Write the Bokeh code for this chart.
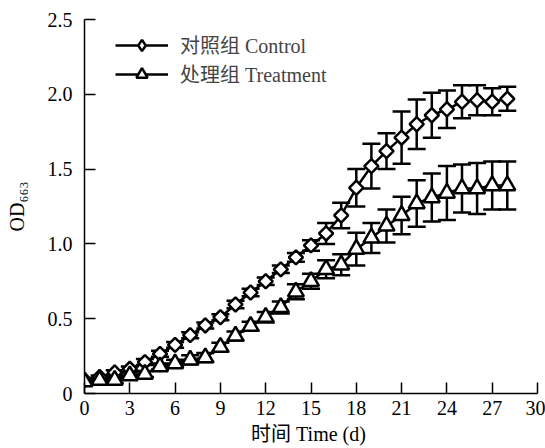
from bokeh.plotting import figure
from bokeh.models import ColumnDataSource, Whisker, TeeHead, Legend, LegendItem, FixedTicker, Range1d
from bokeh.embed import file_html
from bokeh.resources import INLINE
import math

days = list(range(0, 29))
control_mean = [0.09, 0.11, 0.14, 0.165, 0.21, 0.265, 0.325, 0.39, 0.455, 0.51,
                0.595, 0.675, 0.75, 0.83, 0.91, 0.99, 1.07, 1.19, 1.375, 1.52,
                1.62, 1.71, 1.80, 1.86, 1.90, 1.95, 1.96, 1.95, 1.97]
control_sd = [0.01, 0.01, 0.015, 0.015, 0.02, 0.02, 0.02, 0.02, 0.02, 0.02,
              0.025, 0.025, 0.025, 0.025, 0.03, 0.035, 0.07, 0.085, 0.125, 0.15,
              0.12, 0.175, 0.165, 0.15, 0.125, 0.11, 0.10, 0.09, 0.08]
treat_mean = [0.08, 0.09, 0.09, 0.12, 0.13, 0.18, 0.20, 0.225, 0.24, 0.31,
              0.385, 0.45, 0.51, 0.575, 0.68, 0.75, 0.83, 0.86, 0.965, 1.04,
              1.12, 1.19, 1.27, 1.31, 1.34, 1.37, 1.37, 1.39, 1.39]
treat_sd = [0.01, 0.015, 0.02, 0.02, 0.02, 0.02, 0.025, 0.03, 0.03, 0.03,
            0.03, 0.03, 0.035, 0.04, 0.05, 0.05, 0.06, 0.07, 0.11, 0.10,
            0.11, 0.125, 0.155, 0.16, 0.18, 0.16, 0.17, 0.16, 0.16]

x_ticks = [0, 3, 6, 9, 12, 15, 18, 21, 24, 27, 30]
y_ticks = [0, 0.5, 1.0, 1.5, 2.0, 2.5]
y_tick_labels = ["0", "0.5", "1.0", "1.5", "2.0", "2.5"]
series_names = ["对照组 Control", "处理组 Treatment"]
x_label = "时间  Time (d)"
y_label = "OD₆₆₃"

FONT = "Liberation Serif, Noto Sans CJK SC"
FS = "20px"

p = figure(width=545, height=448, output_backend="svg", toolbar_location=None,
           x_range=Range1d(0, 30), y_range=Range1d(0, 2.5),
           min_border_left=84, min_border_right=8, min_border_top=19, min_border_bottom=55)
p.outline_line_color = None
p.grid.visible = False
p.background_fill_color = "white"

for ax in (p.xaxis[0], p.yaxis[0]):
    ax.axis_line_color = "black"
    ax.axis_line_width = 1.5
    ax.major_tick_line_color = "black"
    ax.major_tick_line_width = 1.5
    ax.major_tick_in = 11
    ax.major_tick_out = 0
    ax.minor_tick_line_color = None
    ax.major_label_text_font = FONT
    ax.major_label_text_font_size = FS
    ax.major_label_text_color = "black"
    ax.axis_label_text_font = FONT
    ax.axis_label_text_font_size = FS
    ax.axis_label_text_font_style = "normal"
    ax.axis_label_text_color = "black"

p.xaxis.ticker = FixedTicker(ticks=x_ticks)
p.yaxis.ticker = FixedTicker(ticks=y_ticks)
p.yaxis.major_label_overrides = {t: l for t, l in zip(y_ticks, y_tick_labels)}
p.xaxis.major_label_standoff = 7
p.yaxis.major_label_standoff = 12
p.xaxis.axis_label = x_label
p.yaxis.axis_label = y_label
p.xaxis.axis_label_standoff = 5
p.yaxis.axis_label_standoff = 17

src_c = ColumnDataSource(dict(x=days, y=control_mean,
                              lo=[m - s for m, s in zip(control_mean, control_sd)],
                              hi=[m + s for m, s in zip(control_mean, control_sd)]))
src_t = ColumnDataSource(dict(x=days, y=treat_mean,
                              lo=[m - s for m, s in zip(treat_mean, treat_sd)],
                              hi=[m + s for m, s in zip(treat_mean, treat_sd)]))

for src in (src_c, src_t):
    w = Whisker(source=src, base="x", lower="lo", upper="hi",
                line_color="black", line_width=2.5,
                upper_head=TeeHead(size=18, line_color="black", line_width=2.5),
                lower_head=TeeHead(size=18, line_color="black", line_width=2.5))
    p.add_layout(w)

lc = p.line("x", "y", source=src_c, line_color="black", line_width=2.5)
# legend-only diamond: legend glyphs ignore marker angle, so a zero-size diamond
# renderer supplies the legend symbol (legend marker size is set by the legend box)
legend_diamond = p.scatter("x", "y", source=src_c, marker="diamond", size=0,
                           fill_color="white", line_color="black", line_width=2.5)
mc = p.scatter("x", "y", source=src_c, marker="square", angle=math.pi / 4, size=10,
               fill_color="white", line_color="black", line_width=2.5)
lt = p.line("x", "y", source=src_t, line_color="black", line_width=2.5)
mt = p.scatter("x", "y", source=src_t, marker="triangle", size=16,
               fill_color="white", line_color="black", line_width=2.5)

legend = Legend(items=[LegendItem(label=series_names[0], renderers=[lc, legend_diamond]),
                       LegendItem(label=series_names[1], renderers=[lt, mt])],
                location=(31, 305), padding=0, margin=0, spacing=-2,
                glyph_width=53, glyph_height=28, label_height=20, label_standoff=12,
                label_text_font=FONT, label_text_font_size=FS,
                border_line_color=None, background_fill_alpha=0)
p.add_layout(legend)

open("out.html", "w").write(file_html(p, INLINE))
